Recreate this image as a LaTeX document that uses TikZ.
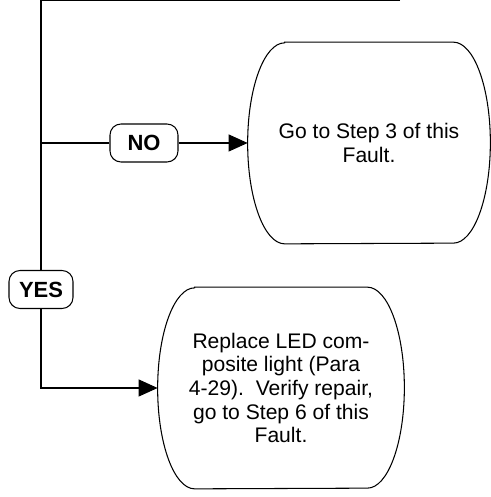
\documentclass[tikz,border=0pt]{standalone}
\usepackage{fontspec}
\setmainfont{Liberation Sans}
\usepackage{tikz}
\usetikzlibrary{positioning,arrows.meta}

% outline of a box with flat top and bottom and half-ellipse ends
\newcommand{\capsule}[3]{%
  \draw ([xshift=#2]#1.north west) -- ([xshift=-#2]#1.north east)
    arc[start angle=90,end angle=-90,x radius=#2,y radius=#3]
    -- ([xshift=#2]#1.south west)
    arc[start angle=270,end angle=90,x radius=#2,y radius=#3] -- cycle;}

\tikzset{
  flow/.style={line width=0.6pt},
  answer/.style={draw,line width=0.6pt,rounded corners=0.22cm,minimum height=0.76cm,
    inner sep=0pt,font=\fontsize{12.5}{14}\selectfont\bfseries},
  action/.style={minimum width=4.9cm,minimum height=4.02cm,align=center,
    font=\fontsize{12}{13.4}\selectfont},
}

\begin{document}
\begin{tikzpicture}[scale=1]
  \useasboundingbox (0,0) rectangle (9.8,9.94);
  \coordinate (top) at (0.82,9.93);
  \coordinate (topend) at (8.0,9.93);
  \coordinate (nobranch) at (0.82,7.08);
  \coordinate (yesturn) at (0.82,2.18);
  \node[answer,minimum width=1.36cm] (no) at (2.88,7.08) {NO};
  \node[answer,minimum width=1.28cm] (yes) at (0.82,4.15) {YES};
  \node[action,minimum width=4.84cm] (step3) at (7.38,7.08) {Go to Step 3 of this\\Fault.};
  \node[action,minimum width=4.92cm] (fix) at (5.62,2.18) {Replace LED com-\\posite light (Para\\4-29).\ \ Verify repair,\\go to Step 6 of this\\Fault.};
  \begin{scope}[line width=0.6pt]
    \capsule{step3}{0.74cm}{2.01cm}
    \capsule{fix}{0.74cm}{2.01cm}
  \end{scope}
  \draw[flow] (topend) -- (top) -- (yes.north);
  \draw[flow] (nobranch) -- (no.west);
  \draw[flow,-{Triangle[length=0.38cm,width=0.34cm]}] (no.east) -- (step3.west);
  \draw[flow,-{Triangle[length=0.38cm,width=0.34cm]}] (yes.south) -- (yesturn) -- (fix.west);
\end{tikzpicture}
\end{document}
